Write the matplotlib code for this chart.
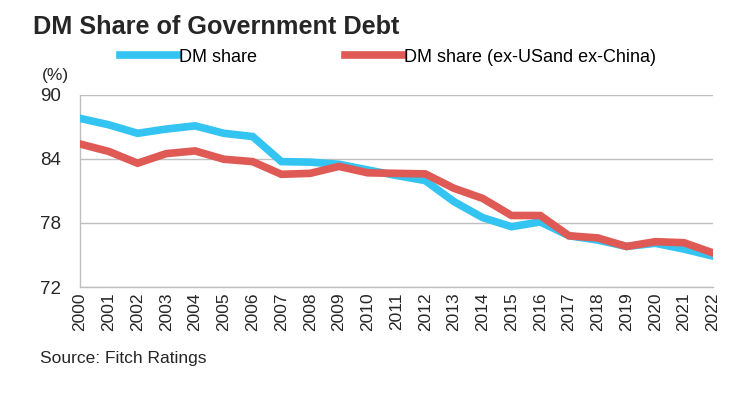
import matplotlib
matplotlib.use("Agg")
import matplotlib.pyplot as plt

# values, % share
years = list(range(2000, 2023))
dm_share = [87.8, 87.2, 86.4, 86.8, 87.1, 86.4, 86.1, 83.75, 83.7, 83.5, 82.97, 82.45,
            81.97, 80.0, 78.5, 77.65, 78.1, 76.8, 76.4, 75.8, 76.1, 75.55, 74.9]
dm_share_ex = [85.4, 84.7, 83.6, 84.5, 84.75, 83.97, 83.75, 82.56, 82.65, 83.3, 82.7, 82.65,
               82.6, 81.25, 80.3, 78.7, 78.7, 76.8, 76.6, 75.8, 76.25, 76.15, 75.2]
y_ticks = [72, 78, 84, 90]

plt.rcParams['font.family'] = ['Liberation Sans', 'DejaVu Sans']

fig = plt.figure(figsize=(7.48, 3.97), dpi=100)
ax = fig.add_axes([0.107, 0.277, 0.846, 0.484])

blue = '#33C4F2'
red = '#E05A55'
ax.plot(years, dm_share, color=blue, lw=5.5, solid_joinstyle='miter', label='DM share', zorder=3)
ax.plot(years, dm_share_ex, color=red, lw=5.5, solid_joinstyle='miter',
        label='DM share (ex-USand ex-China)', zorder=4)

ax.set_xlim(2000, 2022)
ax.set_ylim(72, 90)
ax.set_yticks(y_ticks)
ax.set_xticks(years)
ax.set_xticklabels([str(y) for y in years], rotation=90, fontsize=12.5, color='#262626')
ax.tick_params(axis='y', labelsize=13.5, colors='#262626', length=0, pad=14)
ax.tick_params(axis='x', length=0, pad=4)
ax.grid(axis='y', color='#BFBFBF', lw=1)
for s in ['top', 'right']:
    ax.spines[s].set_visible(False)
for s in ['left', 'bottom']:
    ax.spines[s].set_color('#BFBFBF')
    ax.spines[s].set_linewidth(1)

fig.text(0.044, 0.932, 'DM Share of Government Debt', fontsize=18.2, fontweight='bold',
         color='#262626', va='center')
fig.legend(loc='center left', bbox_to_anchor=(0.139, 0.856), ncol=2, frameon=False,
           fontsize=13, handlelength=3.2, handletextpad=0.05, columnspacing=4.9)
fig.text(0.056, 0.81, '(%)', fontsize=12.5, color='#262626', va='center')
fig.text(0.053, 0.098, 'Source: Fitch Ratings', fontsize=12.5, color='#262626', va='center')

fig.savefig('out.png', dpi=100)
